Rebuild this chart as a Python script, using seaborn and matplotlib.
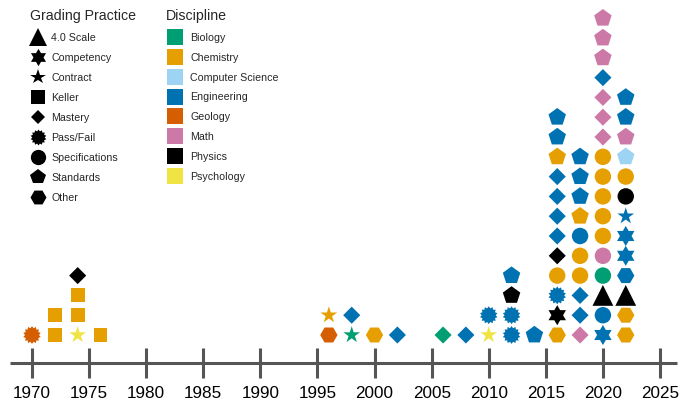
import matplotlib.pyplot as plt
import pandas as pd
import seaborn as sns
from matplotlib.lines import Line2D
from matplotlib.path import Path

# one entry per study, listed bottom-to-top within each year
years = ([1970] + [1972] * 2 + [1974] * 4 + [1976]
         + [1996] * 2 + [1998] * 2 + [2000, 2002, 2006, 2008]
         + [2010] * 2 + [2012] * 4 + [2014]
         + [2016] * 12 + [2018] * 10 + [2020] * 17 + [2022] * 13)

practices = (
    ["Pass/Fail"]
    + ["Keller", "Keller"]
    + ["Contract", "Keller", "Keller", "Mastery"]
    + ["Keller"]
    + ["Other", "Contract"]
    + ["Contract", "Mastery"]
    + ["Other", "Mastery", "Mastery", "Mastery"]
    + ["Contract", "Pass/Fail"]
    + ["Pass/Fail", "Pass/Fail", "Standards", "Standards"]
    + ["Standards"]
    + ["Other", "Competency", "Pass/Fail", "Specifications", "Mastery",
       "Mastery", "Mastery", "Mastery", "Mastery", "Standards", "Standards",
       "Standards"]
    + ["Mastery", "Mastery", "Mastery", "Specifications", "Specifications",
       "Specifications", "Standards", "Standards", "Standards", "Standards"]
    + ["Competency", "Specifications", "4.0 Scale", "Specifications",
       "Specifications", "Specifications", "Specifications", "Specifications",
       "Specifications", "Specifications", "Mastery", "Mastery", "Mastery",
       "Mastery", "Standards", "Standards", "Standards"]
    + ["Other", "Other", "4.0 Scale", "Other", "Competency", "Competency",
       "Contract", "Specifications", "Specifications", "Standards",
       "Standards", "Standards", "Standards"]
)

disciplines = (
    ["Geology"]
    + ["Chemistry", "Chemistry"]
    + ["Psychology", "Chemistry", "Chemistry", "Physics"]
    + ["Chemistry"]
    + ["Geology", "Chemistry"]
    + ["Biology", "Engineering"]
    + ["Chemistry", "Engineering", "Biology", "Engineering"]
    + ["Psychology", "Engineering"]
    + ["Engineering", "Engineering", "Physics", "Engineering"]
    + ["Engineering"]
    + ["Chemistry", "Physics", "Engineering", "Chemistry", "Physics",
       "Engineering", "Engineering", "Engineering", "Engineering",
       "Chemistry", "Engineering", "Engineering"]
    + ["Math", "Engineering", "Engineering", "Chemistry", "Chemistry",
       "Engineering", "Chemistry", "Engineering", "Engineering", "Engineering"]
    + ["Engineering", "Engineering", "Physics", "Biology", "Math",
       "Chemistry", "Chemistry", "Chemistry", "Chemistry", "Chemistry",
       "Math", "Math", "Math", "Engineering", "Math", "Math", "Math"]
    + ["Chemistry", "Chemistry", "Physics", "Engineering", "Engineering",
       "Engineering", "Engineering", "Physics", "Chemistry",
       "Computer Science", "Math", "Engineering", "Engineering"]
)

practice_order = ["4.0 Scale", "Competency", "Contract", "Keller", "Mastery",
                  "Pass/Fail", "Specifications", "Standards", "Other"]
discipline_order = ["Biology", "Chemistry", "Computer Science", "Engineering",
                    "Geology", "Math", "Physics", "Psychology"]
discipline_colors = ["#009E73", "#E69F00", "#9DD3F3", "#0072B2",
                     "#D55E00", "#CC79A7", "#000000", "#F0E442"]


def main():
    sns.set_theme(style="white")
    plt.rcParams["font.family"] = ["Liberation Sans", "DejaVu Sans"]

    df = pd.DataFrame({"year": years, "practice": practices,
                       "discipline": disciplines})
    df["row"] = df.groupby("year").cumcount()

    burst = Path.unit_regular_star(14, 0.78)
    hexagram = Path.unit_regular_star(6, 0.58)
    markers = {"4.0 Scale": "^", "Competency": hexagram, "Contract": "*",
               "Keller": "s", "Mastery": "D", "Pass/Fail": burst,
               "Specifications": "o", "Standards": "p", "Other": "H"}
    sizes = {"4.0 Scale": 225, "Competency": 210, "Contract": 160,
             "Keller": 100, "Mastery": 76, "Pass/Fail": 165,
             "Specifications": 140, "Standards": 175, "Other": 155}
    palette = dict(zip(discipline_order, discipline_colors))

    fig = plt.figure(figsize=(6.85, 4.07), dpi=100)
    ax = fig.add_axes([0, 0, 1, 1])

    sns.scatterplot(data=df, x="year", y="row", hue="discipline",
                    style="practice", size="practice", markers=markers,
                    sizes=sizes, palette=palette, hue_order=discipline_order,
                    style_order=practice_order, size_order=practice_order,
                    linewidth=0, edgecolor="none", legend=False, ax=ax)

    px_year = 628 / 55
    ax.set_xlim(1970 - 32 / px_year, 2025 + 25 / px_year)
    row_px = 19.8
    ax.set_ylim(-72 / row_px, (407 - 72) / row_px)

    for side in ["top", "left", "right"]:
        ax.spines[side].set_visible(False)
    spine = ax.spines["bottom"]
    spine.set_position(("data", -28 / row_px))
    spine.set_bounds(1970 - 22 / px_year, 2025 + 17 / px_year)
    spine.set_color("#555555")
    spine.set_linewidth(2.2)
    spine.set_capstyle("butt")

    ax.set_xticks(range(1970, 2026, 5))
    ax.set_yticks([])
    ax.tick_params(axis="x", direction="inout", length=21.5, width=2.2,
                   color="#555555", labelsize=12.3, labelcolor="black",
                   pad=6, bottom=True)
    ax.set_xlabel("")
    ax.set_ylabel("")

    # Grading practice legend
    legend_ms = {"4.0 Scale": 12.5, "Competency": 12.5, "Contract": 11.5,
                 "Keller": 9.5, "Mastery": 7.3, "Pass/Fail": 11.5,
                 "Specifications": 11, "Standards": 11.5, "Other": 11.5}
    shape_handles = [Line2D([], [], linestyle="none", marker=markers[p],
                            markersize=legend_ms[p], color="black",
                            markeredgewidth=0, label=p)
                     for p in practice_order]
    leg1 = ax.legend(handles=shape_handles, title="Grading Practice",
                     loc="upper left", bbox_to_anchor=(30 / 685, 1 - 9 / 407),
                     bbox_transform=fig.transFigure, frameon=False,
                     fontsize=7.7, title_fontsize=10.2, alignment="left",
                     borderpad=0, borderaxespad=0, handlelength=1.5,
                     handletextpad=0.5, labelspacing=0.93)
    ax.add_artist(leg1)

    # Discipline legend
    color_handles = [Line2D([], [], linestyle="none", marker="s",
                            markersize=12.2, color=c, markeredgewidth=0,
                            label=d)
                     for d, c in zip(discipline_order, discipline_colors)]
    ax.legend(handles=color_handles, title="Discipline",
              loc="upper left", bbox_to_anchor=(166 / 685, 1 - 9 / 407),
              bbox_transform=fig.transFigure, frameon=False,
              fontsize=7.7, title_fontsize=10.2, alignment="left",
              borderpad=0, borderaxespad=0, handlelength=1.6,
              handletextpad=0.65, labelspacing=0.92)

    plt.savefig("out.png", dpi=100)
    plt.close()


if __name__ == '__main__':
    main()
